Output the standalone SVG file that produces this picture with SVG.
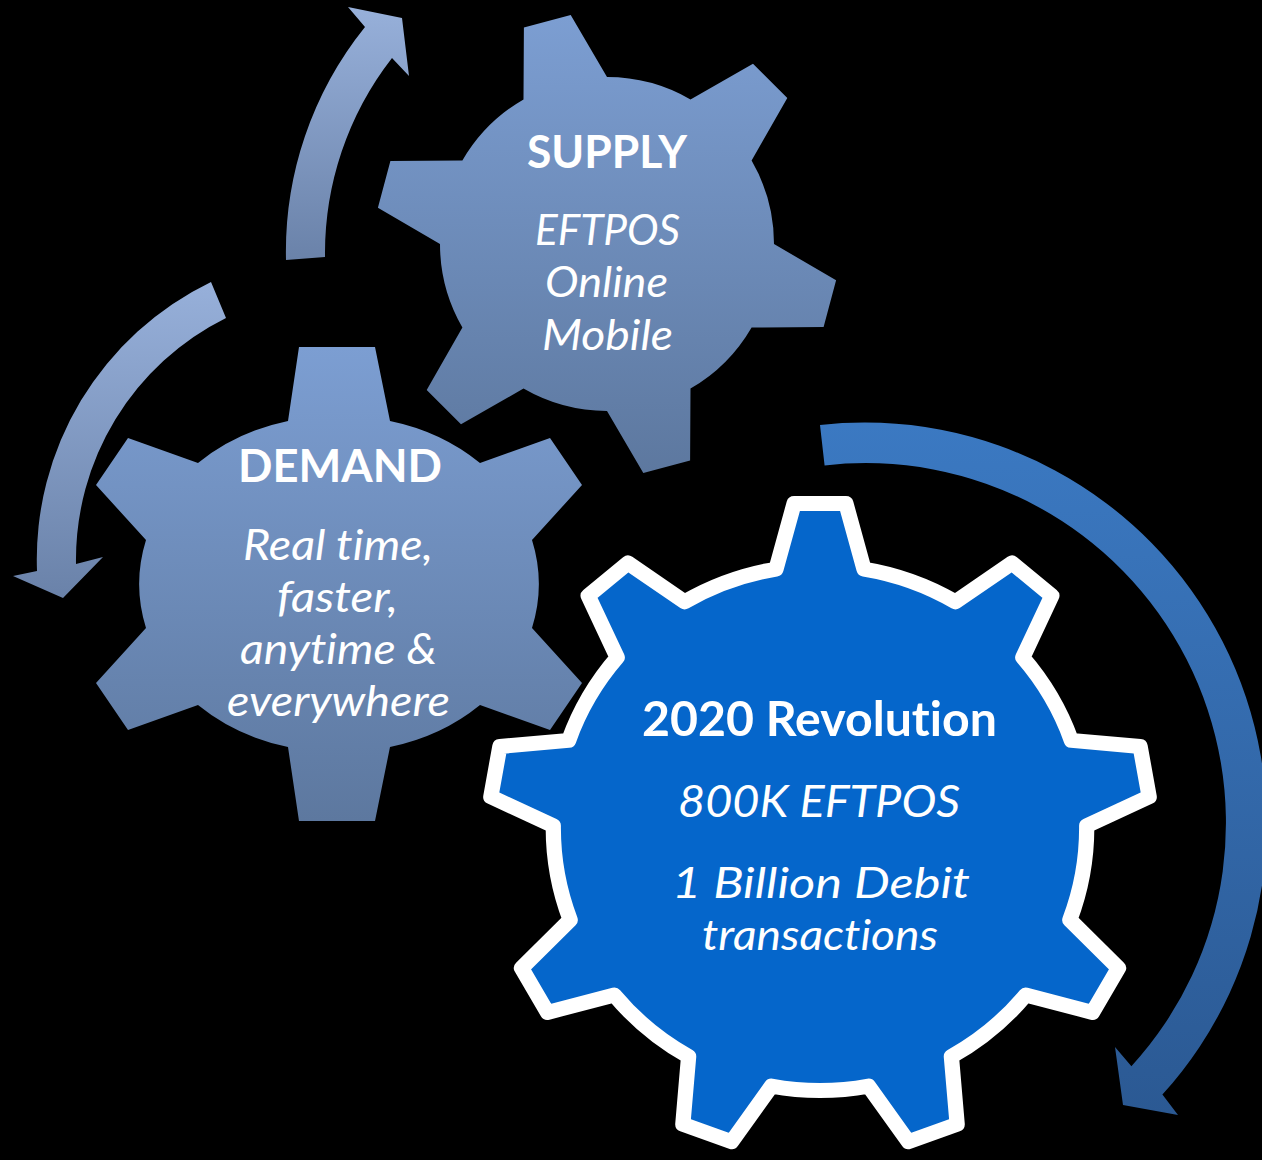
<svg xmlns="http://www.w3.org/2000/svg" width="1262" height="1160" viewBox="0 0 1262 1160">
<defs>
<linearGradient id="gGear" x1="0" y1="0" x2="0" y2="1"><stop offset="0" stop-color="#7C9ED2"/><stop offset="1" stop-color="#5D789F"/></linearGradient>
<linearGradient id="gArrowL" x1="0" y1="0" x2="0" y2="1"><stop offset="0" stop-color="#97B0DA"/><stop offset="1" stop-color="#6A82A9"/></linearGradient>
<linearGradient id="gArrowB" x1="0" y1="0" x2="0" y2="1"><stop offset="0" stop-color="#3B79C2"/><stop offset="1" stop-color="#2B5993"/></linearGradient>
<style>
.t{font-family:Lato,"Open Sans","Liberation Sans",sans-serif;fill:#fff;text-anchor:middle;font-variant-ligatures:none;font-feature-settings:"liga" 0,"clig" 0}
.b{font-weight:700}
.i{font-style:italic}
.gear{fill:url(#gGear)}
.arrowL{fill:url(#gArrowL)}
</style>
</defs>
<rect width="1262" height="1160" fill="#000"/>
<g id="connectors">
<path class="arrowL" d="M286,260 A358 358 0 0 1 365,27 L348,7 L402,18 L409,76 L392,58 A318 318 0 0 0 325,257 Z"/>
<path class="arrowL" d="M211,282 A308 308 0 0 0 37,571 L13,576 L63,598 L103,557 L76,564 A270 270 0 0 1 226,318 Z"/>
<path fill="url(#gArrowB)" d="M820,425 A402 402 0 0 1 1162.4,1094.6 L1178,1115 L1123,1105 L1115,1047 L1131.4,1066.2 A360 360 0 0 0 824.6,465.4 Z"/>
</g>
<g id="supply">
<path class="gear" d="M523.5,99.4 L523.9,27.4 L570.7,14.9 L607,77 A167 167 0 0 1 690.5,99.4 L753,63.7 L787.3,98 L751.6,160.5 A167 167 0 0 1 774,244 L836.1,280.3 L823.6,327.1 L751.6,327.5 A167 167 0 0 1 690.5,388.6 L690.1,460.6 L643.3,473.1 L607,411 A167 167 0 0 1 523.5,388.6 L461,424.3 L426.7,390 L462.4,327.5 A167 167 0 0 1 440,244 L377.9,207.7 L390.4,160.9 L462.4,160.5 A167 167 0 0 1 523.5,99.4 Z"/>
<text class="t b" x="607" y="168" font-size="45" textLength="160" lengthAdjust="spacingAndGlyphs">SUPPLY</text>
<text class="t i" x="607.5" y="245" font-size="42" textLength="145" lengthAdjust="spacingAndGlyphs">EFTPOS</text>
<text class="t i" x="606.5" y="297" font-size="42" textLength="123" lengthAdjust="spacingAndGlyphs">Online</text>
<text class="t i" x="607.5" y="350" font-size="42" textLength="131" lengthAdjust="spacingAndGlyphs">Mobile</text>
</g>
<g id="demand">
<path class="gear" d="M288,421 L299,347 L375,347 L390,421 A198 170 0 0 1 480,463 L550,438 L582,485 L532,540 A198 170 0 0 1 532,628 L582,683 L550,730 L480,705 A198 170 0 0 1 390,747 L375,821 L299,821 L288,747 A198 170 0 0 1 198,705 L128,730 L96,683 L146,628 A198 170 0 0 1 146,540 L96,485 L128,438 L198,463 A198 170 0 0 1 288,421 Z"/>
<text class="t b" x="340" y="482" font-size="45" textLength="204" lengthAdjust="spacingAndGlyphs">DEMAND</text>
<text class="t i" x="338" y="560" font-size="42" textLength="190" lengthAdjust="spacingAndGlyphs">Real time,</text>
<text class="t i" x="337.5" y="612" font-size="42" textLength="121" lengthAdjust="spacingAndGlyphs">faster,</text>
<text class="t i" x="338.5" y="664" font-size="42" textLength="197" lengthAdjust="spacingAndGlyphs">anytime &amp;</text>
<text class="t i" x="338.5" y="716" font-size="42" textLength="223" lengthAdjust="spacingAndGlyphs">everywhere</text>
</g>
<g id="revolution">
<path fill="#0566CB" stroke="#fff" stroke-width="15" stroke-linejoin="round" transform="translate(820,828) scale(1.016,1) translate(-820,-828)" d="M776.7,569.1 L794.5,503.5 L845.5,503.5 L863.3,569.1 A262.5 262.5 0 0 1 953.2,601.8 L1009,563 L1048.1,595.8 L1019.6,657.5 A262.5 262.5 0 0 1 1067.4,740.4 L1135.1,746.5 L1144,796.8 L1082.5,825.7 A262.5 262.5 0 0 1 1065.9,919.9 L1113.8,968.1 L1088.2,1012.4 L1022.5,995 A262.5 262.5 0 0 1 949.3,1056.5 L955,1124.2 L907,1141.7 L867.8,1086.1 A262.5 262.5 0 0 1 772.2,1086.1 L733,1141.7 L685,1124.2 L690.7,1056.5 A262.5 262.5 0 0 1 617.5,995 L551.8,1012.4 L526.2,968.1 L574.1,919.9 A262.5 262.5 0 0 1 557.5,825.7 L496,796.8 L504.9,746.5 L572.6,740.4 A262.5 262.5 0 0 1 620.4,657.5 L591.9,595.8 L631,563 L686.8,601.8 A262.5 262.5 0 0 1 776.7,569.1 Z"/>
<text class="t b" x="819.5" y="736" font-size="48" textLength="355" lengthAdjust="spacingAndGlyphs">2020 Revolution</text>
<text class="t i" x="819" y="817" font-size="45" textLength="282" lengthAdjust="spacingAndGlyphs">800K EFTPOS</text>
<text class="t i" x="821" y="898" font-size="43" textLength="298" lengthAdjust="spacingAndGlyphs">1 Billion Debit</text>
<text class="t i" x="820" y="950" font-size="43" textLength="236" lengthAdjust="spacingAndGlyphs">transactions</text>
</g>
</svg>
